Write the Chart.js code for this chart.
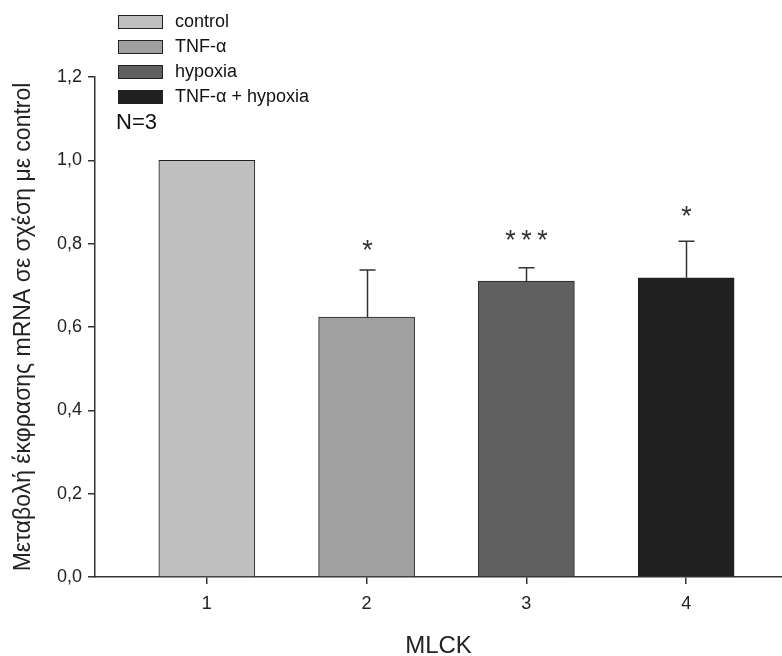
<!DOCTYPE html>
<html>
<head>
<meta charset="utf-8">
<script src="https://cdn.jsdelivr.net/npm/chart.js@4.4.0/dist/chart.umd.min.js"></script>
<style>
  html, body { margin:0; padding:0; background:#fff; }
  #wrap { width:782px; height:656px; position:relative; }
</style>
</head>
<body>
<div id="wrap"><canvas id="chart" width="782" height="656"></canvas></div>
<script>
// Data
const groups = ['control', 'TNF-α', 'hypoxia', 'TNF-α + hypoxia'];
const positions = [1, 2, 3, 4];
const means = [1.0, 0.624, 0.710, 0.718];
const errors = [0, 0.113, 0.032, 0.088];
const stars = ['', '*', '***', '*'];
const starLevels = [0, 0.792, 0.818, 0.874];
const yTicks = [0, 0.2, 0.4, 0.6, 0.8, 1.0, 1.2];
const colors = ['#c0c0c0', '#a0a0a0', '#606060', '#202020'];

const FONT = '"Liberation Sans", Arial, sans-serif';
const axisColor = '#333';

// error bars + significance stars
const errorBarPlugin = {
  id: 'errorBars',
  afterDatasetsDraw(chart){
    const ctx = chart.ctx;
    const x = chart.scales.x, y = chart.scales.y;
    ctx.save();
    ctx.strokeStyle = '#333';
    ctx.lineWidth = 1.5;
    positions.forEach((p, i) => {
      if(!errors[i]) return;
      const px = Math.round(x.getPixelForValue(p)) + 0.5;
      const top = y.getPixelForValue(means[i] + errors[i]);
      const base = y.getPixelForValue(means[i]);
      ctx.beginPath();
      ctx.moveTo(px, base); ctx.lineTo(px, top);
      ctx.moveTo(px - 8, top); ctx.lineTo(px + 8, top);
      ctx.stroke();
      ctx.fillStyle = '#333';
      ctx.font = '27px ' + FONT;
      ctx.textAlign = 'center';
      ctx.textBaseline = 'middle';
      ctx.fillText(stars[i].split('').join('\u2009'), px, y.getPixelForValue(starLevels[i]) + 5);
    });
    ctx.restore();
  }
};

// legend block in the top-left corner
const legendPlugin = {
  id: 'sideLegend',
  afterDraw(chart){
    const ctx = chart.ctx;
    ctx.save();
    groups.forEach((g, i) => {
      const cy = 22 + i * 25;
      ctx.fillStyle = colors[i];
      ctx.fillRect(118, cy - 7, 45, 14);
      ctx.strokeStyle = '#222';
      ctx.lineWidth = 1;
      ctx.strokeRect(118.5, cy - 6.5, 44, 13);
      ctx.fillStyle = '#111';
      ctx.font = '18px ' + FONT;
      ctx.textAlign = 'left';
      ctx.textBaseline = 'middle';
      ctx.fillText(g, 175, cy);
    });
    ctx.font = '22px ' + FONT;
    ctx.fillText('N=3', 116, 123);
    ctx.restore();
  }
};

new Chart(document.getElementById('chart').getContext('2d'), {
  type: 'bar',
  data: {
    datasets: [{
      data: positions.map((p, i) => ({x: p, y: means[i]})),
      backgroundColor: colors,
      borderColor: '#222',
      borderWidth: 1,
      barThickness: 96
    }]
  },
  options: {
    responsive: false,
    animation: false,
    layout: { padding: { top: 77, right: 0, left: 0, bottom: 0 } },
    plugins: { legend: { display: false }, tooltip: { enabled: false } },
    scales: {
      x: {
        type: 'linear',
        offset: false,
        min: 0.3,
        max: 4.6,
        afterBuildTicks: s => { s.ticks = positions.map(v => ({value: v})); },
        ticks: { color: '#222', font: { family: FONT, size: 18 }, padding: 9 },
        grid: { display: true, offset: false, drawOnChartArea: false, tickLength: 7, color: axisColor, lineWidth: 1.5 },
        border: { display: true, color: axisColor, width: 1.5 },
        title: { display: true, text: 'MLCK', color: '#222', font: { family: FONT, size: 24, lineHeight: 0.8 }, padding: { top: 20, bottom: 0 } },
        afterFit: s => { s.height = 79; }
      },
      y: {
        min: 0,
        max: 1.2,
        afterBuildTicks: s => { s.ticks = yTicks.map(v => ({value: v})); },
        ticks: {
          color: '#222', font: { family: FONT, size: 18 }, padding: 6,
          callback: v => v.toFixed(1).replace('.', ',')
        },
        grid: { display: true, drawOnChartArea: false, tickLength: 7, color: axisColor, lineWidth: 1.5 },
        border: { display: true, color: axisColor, width: 1.5 },
        title: {
          display: true, text: 'Μεταβολή έκφρασης mRNA σε σχέση με control',
          color: '#222', font: { family: FONT, size: 23 }, padding: { top: 10, bottom: 0 }
        },
        afterFit: s => { s.width = 95; }
      }
    }
  },
  plugins: [errorBarPlugin, legendPlugin]
});
</script>
</body>
</html>
